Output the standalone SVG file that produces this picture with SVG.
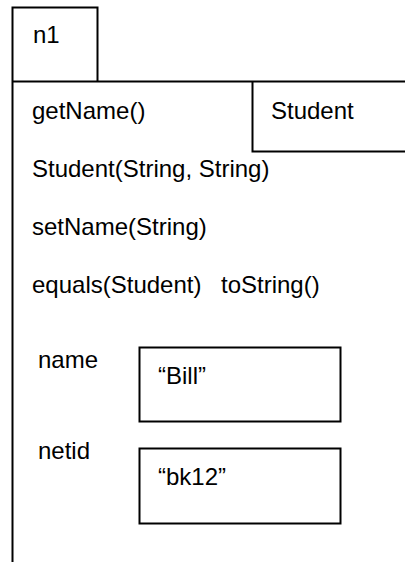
<svg xmlns="http://www.w3.org/2000/svg" width="405" height="562" viewBox="0 0 405 562">
<style>
.ln{stroke:#000;stroke-width:2;fill:none}
.bx{stroke:#000;stroke-width:2;fill:#fff}
text{font-family:"Liberation Sans",Arial,sans-serif;font-size:24px;fill:#000}
</style>
<rect width="405" height="562" fill="#fff"/>
<g id="frame">
<path class="ln" d="M12.5,562 V7.5 H97.5 V81.5 M12.5,81.5 H405"/>
</g>
<g id="n1"><text x="33" y="43">n1</text></g>
<g id="student-type">
<path class="ln" d="M252.5,81.5 V151.5 H405"/>
<text x="271" y="119">Student</text>
</g>
<g id="methods">
<text x="32" y="119">getName()</text>
<text x="32" y="177">Student(String, String)</text>
<text x="32" y="235">setName(String)</text>
<text x="32" y="293">equals(Student)</text>
<text x="221" y="293">toString()</text>
</g>
<g id="field-name">
<text x="38" y="368">name</text>
<rect class="bx" x="139.5" y="347.5" width="201" height="74"/>
<text x="158" y="384">“Bill”</text>
</g>
<g id="field-netid">
<text x="38" y="459">netid</text>
<rect class="bx" x="139.5" y="448.5" width="201" height="75"/>
<text x="158" y="485">“bk12”</text>
</g>
<g id="connectors"></g>
</svg>
